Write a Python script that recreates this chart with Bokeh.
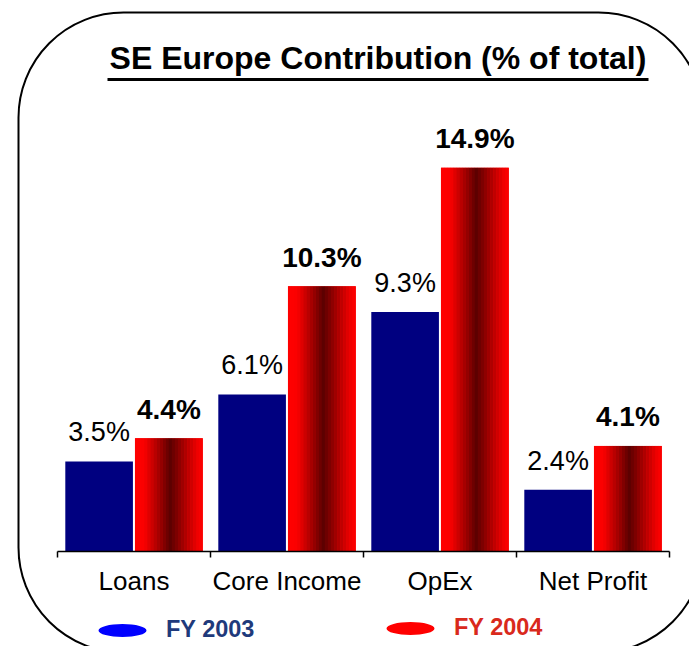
import numpy as np
from bokeh.plotting import figure
from bokeh.models import (ColumnDataSource, Range1d, FixedTicker, Label,
                          BoxAnnotation, Legend, LegendItem)
from bokeh.transform import dodge
from bokeh.core.properties import value
from bokeh.embed import file_html
from bokeh.resources import INLINE

# ---------------- data ----------------
categories = ["Loans", "Core Income", "OpEx", "Net Profit"]
fy2003 = [3.5, 6.1, 9.3, 2.4]
fy2004 = [4.4, 10.3, 14.9, 4.1]
series_names = ["FY 2003", "FY 2004"]
title_text = "SE Europe Contribution (% of total)"

# ---------------- layout constants (page px) ----------------
W, H = 689, 646
X0 = 57          # left end of the category axis
CAT_PX = 153     # width of one category
Y0 = 551         # baseline (value 0)
PX_UNIT = 25.75  # px per percentage point


def dx(px):
    return (px - X0) / CAT_PX


def dy(py):
    return (Y0 - py) / PX_UNIT


FONT = "Liberation Sans"
NAVY = "#000080"
RED = "#FF0000"

centers = [i + 0.5 for i in range(len(categories))]
src = ColumnDataSource(dict(
    x=centers, cat=categories, v03=fy2003, v04=fy2004,
    l03=[f"{v}%" for v in fy2003], l04=[f"{v}%" for v in fy2004]))

p = figure(width=W, height=H,
           x_range=Range1d(dx(0), dx(W)), y_range=Range1d(dy(H), dy(0)),
           output_backend="svg", toolbar_location=None, y_axis_location=None,
           min_border=0, min_border_left=0, min_border_right=0,
           min_border_top=0, min_border_bottom=0)
p.grid.visible = False
p.outline_line_color = None
p.background_fill_color = "white"
p.border_fill_color = "white"

BW = 0.442
OFF = 0.228

p.vbar(x=dodge("x", -OFF, range=p.x_range), top="v03", width=BW, source=src,
       fill_color=NAVY, line_color=None)
p.vbar(x=dodge("x", OFF, range=p.x_range), top="v04", width=BW, source=src,
       fill_color=RED, line_color=None)

# horizontal gradient of the red bars (style only)
stops = [(0.0, (255, 0, 0)), (0.14, (250, 0, 0)), (0.52, (92, 0, 0)),
         (0.78, (185, 0, 0)), (0.93, (240, 0, 0)), (1.0, (255, 0, 0))]


def grad(t):
    for (t0, c0), (t1, c1) in zip(stops[:-1], stops[1:]):
        if t0 <= t <= t1:
            f = (t - t0) / (t1 - t0)
            return "#%02x%02x%02x" % tuple(int(round(a + (b - a) * f)) for a, b in zip(c0, c1))
    return "#ff0000"


N = 22
sw = BW / N
for k in range(N):
    t = (k + 0.5) / N
    off = OFF - BW / 2 + t * BW
    p.vbar(x=dodge("x", off, range=p.x_range), top="v04", width=sw * 1.08,
           source=src, fill_color=grad(t), line_color=None)

# value labels
p.text(x=dodge("x", -OFF, range=p.x_range), y="v03", text="l03", source=src,
       text_align="center", text_baseline="alphabetic", y_offset=-29,
       text_font=value(FONT), text_font_size="27px", text_color="black")
p.text(x=dodge("x", OFF, range=p.x_range), y="v04", text="l04", source=src,
       text_align="center", text_baseline="alphabetic", y_offset=-29,
       text_font=value(FONT), text_font_size="28px", text_font_style="bold",
       text_color="black")

# axis (fixed at value 0 so that the frame can fill the canvas)
ax = p.xaxis[0]
ax.fixed_location = 0
ax.bounds = (0, len(categories))
ax.ticker = FixedTicker(ticks=centers, minor_ticks=list(range(len(categories) + 1)))
ax.major_label_overrides = {c: n for c, n in zip(centers, categories)}
ax.major_tick_line_color = None
ax.major_tick_out = 0
ax.major_tick_in = 0
ax.minor_tick_line_color = "black"
ax.minor_tick_line_width = 1.5
ax.minor_tick_out = 6
ax.minor_tick_in = 0
ax.axis_line_color = "black"
ax.axis_line_width = 1.5
ax.major_label_text_font = FONT
ax.major_label_text_font_size = "26px"
ax.major_label_text_color = "black"
ax.major_label_standoff = 8

# title with underline
p.add_layout(Label(x=dx(377.5), y=dy(57.5), text=title_text, text_align="center",
                   text_baseline="alphabetic", text_font=FONT,
                   text_font_style="bold", text_font_size="32px",
                   text_color="black"))
p.add_layout(BoxAnnotation(left=dx(107), right=dx(648), top=dy(77.5), bottom=dy(80.5),
                           fill_color="black", fill_alpha=1, line_color=None))

# rounded frame
p.add_layout(BoxAnnotation(left=dx(18), right=dx(703), top=dy(12), bottom=dy(652),
                           fill_color=None, fill_alpha=0, line_color="black",
                           line_alpha=1, line_width=2, border_radius=105))

# legend (ellipse markers)
r1 = p.ellipse(x=[-10], y=[-10], width=48, height=13, width_units="screen",
               height_units="screen", fill_color="#0000FF", line_color=None)
r2 = p.ellipse(x=[-10], y=[-10], width=48, height=13, width_units="screen",
               height_units="screen", fill_color=RED, line_color=None)

for r, name, col, gx, gy in [(r1, series_names[0], "#1F3A7B", 92, 629.5),
                             (r2, series_names[1], "#D9291C", 380, 627.5)]:
    leg = Legend(items=[LegendItem(label=name, renderers=[r])],
                 location=(gx, H - (gy + 30)),
                 glyph_width=60, glyph_height=60, label_standoff=14,
                 padding=0, margin=0, spacing=0, border_line_color=None,
                 background_fill_alpha=0, label_text_font=FONT,
                 label_text_font_style="bold", label_text_font_size="23.5px",
                 label_text_color=col, label_text_baseline="middle")
    p.add_layout(leg)

open("out.html", "w").write(file_html(p, INLINE))
